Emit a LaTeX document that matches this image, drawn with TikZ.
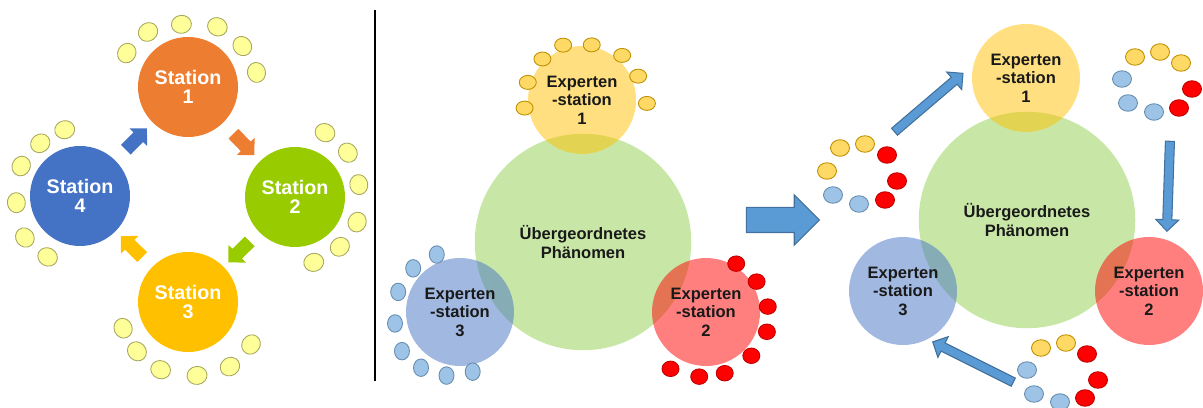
\documentclass[tikz,border=0pt]{standalone}
\usepackage{fontspec}
\setmainfont{Liberation Sans}
\usetikzlibrary{shapes.arrows}
\definecolor{stOrange}{HTML}{ED7D31}
\definecolor{stGreen}{HTML}{99CC00}
\definecolor{stGold}{HTML}{FFC000}
\definecolor{stBlue}{HTML}{4472C4}
\definecolor{seatFill}{HTML}{FFFF99}
\definecolor{seatLine}{HTML}{A8A860}
\definecolor{phGreen}{HTML}{92D050}
\definecolor{exYellow}{HTML}{FFC000}
\definecolor{exBlue}{HTML}{4472C4}
\definecolor{exRed}{HTML}{FF0000}
\definecolor{dotYellow}{HTML}{FFD966}
\definecolor{dotBlue}{HTML}{9DC3E6}
\definecolor{dotRed}{HTML}{FF0000}
\definecolor{arrFill}{HTML}{5B9BD5}
\definecolor{arrLine}{HTML}{41719C}

\begin{document}
\begin{tikzpicture}[x=0.2mm,y=-0.2mm,
    station/.style={circle,minimum size=20mm,inner sep=0pt,text=white,align=center,
        font=\fontsize{11.2}{10.8}\selectfont\bfseries},
    seat/.style={draw=seatLine,fill=seatFill,line width=0.5pt},
    turn/.style={single arrow,sloped,allow upside down,minimum height=6mm,
        inner xsep=0pt,inner ysep=1.3mm,single arrow head extend=1.1mm},
    expert/.style={circle,minimum size=21.6mm,inner sep=0pt,fill opacity=0.5,text opacity=1,
        text=black!90,align=center,font=\fontsize{9.4}{10.5}\selectfont\bfseries},
    topic/.style={expert,minimum size=43.3mm,fill=phGreen},
    ydot/.style={draw=stGold!75!black,fill=dotYellow,line width=0.5pt},
    bdot/.style={draw=arrLine!80,fill=dotBlue,line width=0.5pt},
    rdot/.style={draw=red!75!black,fill=dotRed,line width=0.5pt},
    move/.style={single arrow,sloped,allow upside down,minimum height=18mm,draw=arrLine,fill=arrFill,
        line width=0.6pt,inner xsep=0pt,inner ysep=0.8mm,single arrow head extend=1.4mm},
    bigarrow/.style={single arrow,minimum height=14.6mm,draw=arrLine,fill=arrFill,line width=0.6pt,
        inner xsep=0pt,inner ysep=2.4mm,single arrow head extend=2.5mm}]
    \useasboundingbox (0,0) rectangle (1203,408);

    % stations in a ring
    \node[station,fill=stOrange] (s1) at (188,87) {Station\\1};
    \node[station,fill=stGreen] (s2) at (295,197) {Station\\2};
    \node[station,fill=stGold] (s3) at (188,302) {Station\\3};
    \node[station,fill=stBlue] (s4) at (80,196) {Station\\4};
    \path (s1) -- node[turn,fill=stOrange] (t12) {} (s2);
    \path (s2) -- node[turn,fill=stGreen] (t23) {} (s3);
    \path (s3) -- node[turn,fill=stGold] (t34) {} (s4);
    \path (s4) -- node[turn,fill=stBlue] (t41) {} (s1);
    \foreach \a/\d in {151/70,126/68,96/63,64/67,37/68,12/70}
        \draw[seat,shift={(s1)},rotate=\a] (\d*0.2mm,0pt) ellipse [x radius=1.8mm,y radius=2mm];
    \foreach \a/\d in {65/71,40/69,11/65,-22/67,-48/67,-74/68}
        \draw[seat,shift={(s2)},rotate=\a] (\d*0.2mm,0pt) ellipse [x radius=1.8mm,y radius=2mm];
    \foreach \a/\d in {202/70,224/71,248/73,277/74,303/77,326/76}
        \draw[seat,shift={(s3)},rotate=\a] (\d*0.2mm,0pt) ellipse [x radius=1.8mm,y radius=2mm];
    \foreach \a/\d in {103/68,127/66,153/66,186/64,217/69,242/69}
        \draw[seat,shift={(s4)},rotate=\a] (\d*0.2mm,0pt) ellipse [x radius=1.8mm,y radius=2mm];

    \draw[line width=1.1pt] (375,10) -- (375,381);

    % expert groups
    \node[topic] (ph) at (583,242) {Übergeordnetes\\Phänomen};
    \node[expert,fill=exYellow] (e1) at (582,100) {Experten\\-station\\1};
    \node[expert,fill=exRed] (e2) at (706,312) {Experten\\-station\\2};
    \node[expert,fill=exBlue] (e3) at (460,312) {Experten\\-station\\3};
    \foreach \a/\d in {188/58,162/57,134/57,109/58,80/56,48/60,23/61,-3/65}
        \draw[ydot] (e1.center) ++(\a:\d*0.2mm) ellipse [x radius=1.7mm,y radius=1.4mm];
    \foreach \a/\d in {58/57,31/59,5/62,-18/64,-44/63,-73/64,-96/65,-122/67}
        \draw[rdot] (e2.center) ++(\a:\d*0.2mm) ellipse [x radius=1.7mm,y radius=1.55mm];
    \foreach \a/\d in {112/62,137/64,162/65,190/66,214/70,235/68,258/65,282/61}
        \draw[bdot] (e3.center) ++(\a:\d*0.2mm) ellipse [x radius=1.5mm,y radius=1.75mm];

    \node[bigarrow] (go) at (776.5,220) {};

    % mixed groups
    \node[topic] (rph) at (1027,220) {Übergeordnetes\\Phänomen};
    \node[expert,fill=exYellow] (r1) at (1026,78) {Experten\\-station\\1};
    \node[expert,fill=exRed] (r2) at (1149,291) {Experten\\-station\\2};
    \node[expert,fill=exBlue] (r3) at (903,291) {Experten\\-station\\3};
    \foreach \s/\x/\y in {ydot/840/148,ydot/865/144,rdot/887/155,ydot/827/171,rdot/897/181,bdot/833/195,bdot/859/204,rdot/885/200,
        ydot/1135/57,ydot/1160/52,ydot/1181/63,bdot/1122/79,rdot/1192/89,bdot/1128/103,bdot/1154/112,rdot/1179/108,
        ydot/1041/348,ydot/1066/343,rdot/1087/354,bdot/1027/370,rdot/1098/380,bdot/1034/394,bdot/1060/402,rdot/1085/398}
        \draw[\s] (\x,\y) ellipse [x radius=1.9mm,y radius=1.65mm];
    \coordinate (from1) at (893,133);
    \coordinate (to1) at (961,75);
    \coordinate (from2) at (1170,139);
    \coordinate (to2) at (1167,229);
    \coordinate (from3) at (1015,383);
    \coordinate (to3) at (935,343);
    \path (from1) -- node[move] (m1) {} (to1);
    \path (from2) -- node[move] (m2) {} (to2);
    \path (from3) -- node[move] (m3) {} (to3);
\end{tikzpicture}
\end{document}
